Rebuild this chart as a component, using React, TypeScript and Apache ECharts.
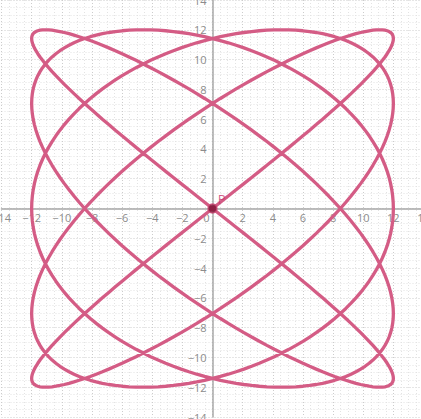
import React, { useEffect, useRef } from "react";
import * as echarts from "echarts";

// Curve parameters: Lissajous figure x = A·sin(5t), y = A·sin(4t)
const amplitudes = [12, 12]; // [x, y]
const frequencies = [5, 4]; // [x, y]
const sampleCount = 720;
// Highlighted point
const pointP = [0, 0];
const pointLabels = ["P"];
// Axis ticks
const axisMin = -14;
const axisMax = 14;
const axisStep = 2;

function buildCurve(): number[][] {
  const pts: number[][] = [];
  for (let i = 0; i <= sampleCount; i++) {
    const t = (2 * Math.PI * i) / sampleCount;
    pts.push([
      amplitudes[0] * Math.sin(frequencies[0] * t),
      amplitudes[1] * Math.sin(frequencies[1] * t),
    ]);
  }
  return pts;
}

const fmt = (v: number) => (v < 0 ? "\u2212" + Math.abs(v) : String(v));

const GRID_LEFT = 1.5;
const GRID_TOP = 0;
const GRID_W = 422;
const GRID_H = 417;

export default function App() {
  const ref = useRef<HTMLDivElement>(null);
  useEffect(() => {
    document.body.style.margin = "0";
    const chart = echarts.init(ref.current!, undefined, { renderer: "svg" });
    const axisCommon = {
      type: "value" as const,
      min: axisMin,
      max: axisMax,
      interval: axisStep,
      minorTick: { show: false, splitNumber: 4 },
      minorSplitLine: {
        show: true,
        lineStyle: { color: "#e3e3e3", type: [1, 2] as any, width: 1 },
      },
      splitLine: {
        show: true,
        lineStyle: { color: "#cccccc", type: [1, 2] as any, width: 1 },
      },
      axisTick: { show: false },
    };
    chart.setOption({
      animation: false,
      backgroundColor: "#ffffff",
      grid: {
        left: GRID_LEFT,
        top: GRID_TOP,
        width: GRID_W,
        height: GRID_H,
        containLabel: false,
        outerBoundsMode: "none",
      },
      xAxis: {
        ...axisCommon,
        position: "bottom",
        offset: -GRID_H / 2,
        axisLine: { show: true, onZero: false, lineStyle: { color: "#a8a8a8", width: 1.5 } },
        axisLabel: {
          color: "#8c8c8c",
          fontSize: 11,
          fontFamily: "Open Sans, sans-serif",
          margin: 3,
          showMinLabel: true,
          showMaxLabel: true,
          hideOverlap: false,
          formatter: (v: number) => (v === 0 ? "{o|0}" : fmt(v)),
          rich: { o: { padding: [0, 12, 0, 0], color: "#8c8c8c", fontSize: 11 } },
        },
      },
      yAxis: {
        ...axisCommon,
        position: "left",
        offset: -GRID_W / 2,
        axisLine: { show: true, onZero: false, lineStyle: { color: "#a8a8a8", width: 1.5 } },
        axisLabel: {
          color: "#8c8c8c",
          fontSize: 11,
          fontFamily: "Open Sans, sans-serif",
          margin: 6,
          showMinLabel: true,
          showMaxLabel: true,
          hideOverlap: false,
          formatter: (v: number) => (v === 0 ? "" : fmt(v)),
        },
      },
      series: [
        {
          type: "line",
          data: buildCurve(),
          showSymbol: false,
          smooth: false,
          lineStyle: { color: "#d45c85", width: 3.3 },
          z: 2,
        },
        {
          type: "scatter",
          data: [pointP],
          symbolSize: 9,
          itemStyle: { color: "#7d1233", borderColor: "#c94a76", borderWidth: 1.5 },
          label: {
            show: true,
            formatter: () => pointLabels[0],
            position: "right",
            offset: [-5, -10],
            color: "#c8386c",
            fontSize: 13,
            fontFamily: "Open Sans, sans-serif",
          },
          z: 5,
        },
      ],
    });
    return () => chart.dispose();
  }, []);
  return (
    <div
      ref={ref}
      style={{ position: "fixed", left: 0, top: 0, width: 421, height: 419 }}
    />
  );
}
